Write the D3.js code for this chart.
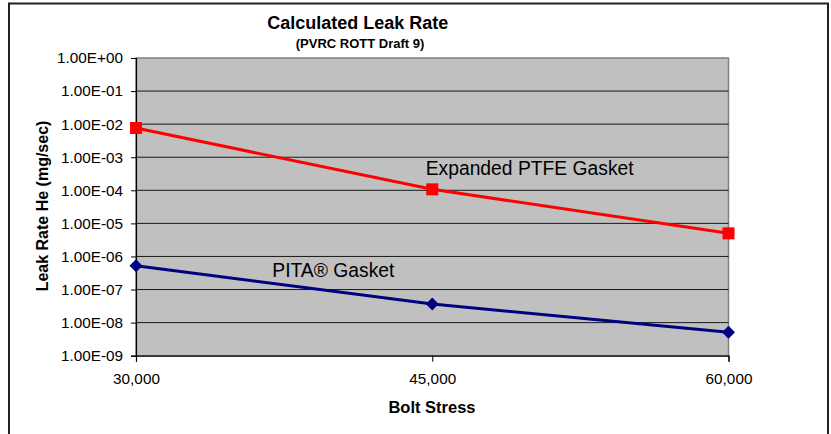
<!DOCTYPE html>
<html>
<head>
<meta charset="utf-8">
<script src="https://cdn.jsdelivr.net/npm/d3@7"></script>
<style>
html,body{margin:0;padding:0;background:#fff;}
svg{display:block;font-family:"Liberation Sans",Arial,sans-serif;}
</style>
</head>
<body>
<svg id="chart" width="831" height="434"></svg>
<script>
const boltStress = [30000, 45000, 60000];
const ptfeValues = [7.65e-3, 1.07e-4, 5.0e-6];
const pitaValues = [5.26e-7, 3.66e-8, 5.1e-9];
const yTickValues = [1e0, 1e-1, 1e-2, 1e-3, 1e-4, 1e-5, 1e-6, 1e-7, 1e-8, 1e-9];
const xTickValues = [30000, 45000, 60000];
const seriesNames = ["Expanded PTFE Gasket", "PITA® Gasket"];

const svg = d3.select("#chart");
const W = 831, H = 434;
const m = {left: 136, right: W - 728.5, top: 58, bottom: H - 355.7};
const pw = W - m.left - m.right, ph = H - m.top - m.bottom;

// outer chart border
svg.append("path")
  .attr("d", `M9,434 L9,3.5 L828,3.5 L828,434`)
  .attr("fill", "none").attr("stroke", "#222").attr("stroke-width", 2);

const x = d3.scaleLinear().domain([30000, 60000]).range([m.left, m.left + pw]);
const y = d3.scaleLog().domain([1e-9, 1e0]).range([m.top + ph, m.top]);

// plot area
svg.append("rect").attr("x", m.left).attr("y", m.top).attr("width", pw).attr("height", ph)
  .attr("fill", "#C0C0C0").attr("stroke", "#808080").attr("stroke-width", 1.5);

// gridlines
svg.append("g").selectAll("line").data(yTickValues.slice(1, -1)).join("line")
  .attr("x1", m.left).attr("x2", m.left + pw)
  .attr("y1", d => y(d)).attr("y2", d => y(d))
  .attr("stroke", "#1a1a1a").attr("stroke-width", 1);

// y axis
const yAxis = d3.axisLeft(y).tickValues(yTickValues).tickSize(5).tickPadding(8)
  .tickFormat(d => { const e = Math.round(Math.log10(d)); return "1.00E" + (e >= 0 ? "+" : "-") + String(Math.abs(e)).padStart(2, "0"); });
const gy = svg.append("g").attr("transform", `translate(${m.left},0)`).call(yAxis);
gy.select(".domain").attr("stroke", "#000").attr("stroke-width", 1.2);
gy.selectAll(".tick line").attr("stroke", "#000");
gy.selectAll("text").attr("font-size", "15.3px").attr("fill", "#000").attr("font-family", "Liberation Sans, Arial, sans-serif");

// x axis
const xAxis = d3.axisBottom(x).tickValues(xTickValues).tickSize(6).tickPadding(11)
  .tickFormat(d3.format(","));
const gx = svg.append("g").attr("transform", `translate(0,${m.top + ph})`).call(xAxis);
gx.select(".domain").attr("stroke", "#000").attr("stroke-width", 1.2);
gx.selectAll(".tick line").attr("stroke", "#000");
gx.selectAll("text").attr("font-size", "15.3px").attr("fill", "#000").attr("font-family", "Liberation Sans, Arial, sans-serif");

// lines
const line = d3.line().x((d, i) => x(boltStress[i])).y(d => y(d));
svg.append("path").datum(ptfeValues).attr("d", line)
  .attr("fill", "none").attr("stroke", "#FF0000").attr("stroke-width", 3);
svg.append("path").datum(pitaValues).attr("d", line)
  .attr("fill", "none").attr("stroke", "#000080").attr("stroke-width", 3);

// markers
svg.append("g").selectAll("rect").data(ptfeValues).join("rect")
  .attr("x", (d, i) => x(boltStress[i]) - 6).attr("y", d => y(d) - 6)
  .attr("width", 12).attr("height", 12).attr("fill", "#FF0000");
svg.append("g").selectAll("path").data(pitaValues).join("path")
  .attr("transform", (d, i) => `translate(${x(boltStress[i])},${y(d)})`)
  .attr("d", "M0,-6.5 L6.5,0 L0,6.5 L-6.5,0 Z").attr("fill", "#000080");

// series labels
svg.append("text").attr("x", 425.7).attr("y", 175).attr("font-size", "19.3px").attr("fill", "#000")
  .text(seriesNames[0]);
svg.append("text").attr("x", 272.3).attr("y", 277.3).attr("font-size", "19.3px").attr("fill", "#000")
  .text(seriesNames[1]);

// titles
svg.append("text").attr("x", 357.8).attr("y", 29).attr("text-anchor", "middle")
  .attr("font-size", "18px").attr("font-weight", "bold").text("Calculated Leak Rate");
svg.append("text").attr("x", 360).attr("y", 48).attr("text-anchor", "middle")
  .attr("font-size", "13px").attr("font-weight", "bold").text("(PVRC ROTT Draft 9)");
svg.append("text").attr("x", 432).attr("y", 413).attr("text-anchor", "middle")
  .attr("font-size", "16.5px").attr("font-weight", "bold").text("Bolt Stress");
svg.append("text").attr("transform", "translate(48,206) rotate(-90)").attr("text-anchor", "middle")
  .attr("font-size", "16px").attr("font-weight", "bold").text("Leak Rate He (mg/sec)");
</script>
</body>
</html>
